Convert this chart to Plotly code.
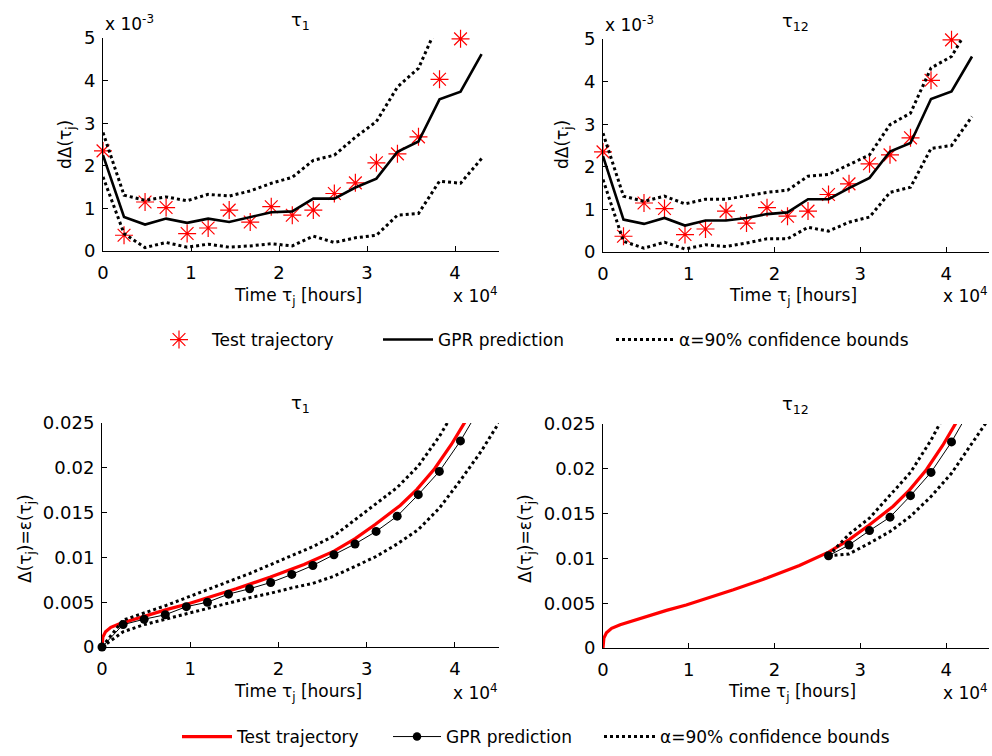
import plotly.graph_objects as go

# ---------------------------------------------------------------- data
# Inspection times, in units of 10^4 hours
time_1e4h = [0.000, 0.239, 0.478, 0.717, 0.956, 1.195, 1.434, 1.673, 1.912, 2.151,
             2.390, 2.629, 2.868, 3.107, 3.346, 3.585, 3.824, 4.063, 4.302, 4.541]

# Increments dDelta(tau_j), units of 10^-3
test_incr = [2.35, 0.37, 1.15, 1.02, 0.41, 0.54, 0.96, 0.68, 1.04, 0.84,
             0.96, 1.35, 1.60, 2.07, 2.28, 2.68, 4.03, 4.98]

pred_incr_t1 = [2.25, 0.80, 0.62, 0.76, 0.66, 0.76, 0.68, 0.80, 0.91, 0.93,
                1.23, 1.23, 1.49, 1.70, 2.33, 2.57, 3.56, 3.74, 4.62]
upper_incr_t1 = [2.78, 1.31, 1.19, 1.27, 1.18, 1.33, 1.29, 1.41, 1.59, 1.73,
                 2.13, 2.25, 2.67, 3.04, 3.85, 4.29, 5.40, 5.70, 6.60]
lower_incr_t1 = [1.74, 0.41, 0.08, 0.20, 0.09, 0.16, 0.09, 0.12, 0.17, 0.12,
                 0.35, 0.20, 0.31, 0.37, 0.84, 0.88, 1.64, 1.59, 2.17]

pred_incr_t12 = [2.25, 0.76, 0.66, 0.80, 0.62, 0.74, 0.74, 0.80, 0.89, 0.93,
                 1.24, 1.24, 1.50, 1.74, 2.36, 2.56, 3.59, 3.77, 4.59]
upper_incr_t12 = [2.79, 1.31, 1.19, 1.31, 1.13, 1.24, 1.24, 1.32, 1.40, 1.45,
                  1.78, 1.82, 2.05, 2.28, 2.99, 3.26, 4.32, 4.59, 5.40]
lower_incr_t12 = [1.70, 0.25, 0.09, 0.23, 0.07, 0.17, 0.13, 0.21, 0.31, 0.31,
                  0.58, 0.49, 0.70, 0.82, 1.40, 1.52, 2.43, 2.50, 3.18]

# Cumulative damage Delta(tau_j) = eps(tau_j): measured test trajectory
traj_time = [0.0, 0.003, 0.01, 0.04, 0.10, 0.20, 0.43, 0.74, 0.97, 1.24, 1.52,
             1.91, 2.29, 2.63, 2.87, 3.10, 3.38, 3.57, 3.77, 3.96, 4.12, 4.20]
traj_eps = [0.0, 0.0007, 0.0011, 0.0017, 0.0022, 0.0026, 0.0033, 0.0042, 0.0048,
            0.0056, 0.0065, 0.0078, 0.0092, 0.0107, 0.0121, 0.0137, 0.0158,
            0.0176, 0.0199, 0.0226, 0.0251, 0.0265]

# GPR prediction from tau_1 (indices 0..18)
pred_eps_t1 = [0.0, 0.0025, 0.0031, 0.0036, 0.0045, 0.0050, 0.0059, 0.0065, 0.0072,
               0.0081, 0.0091, 0.0103, 0.0115, 0.0129, 0.0146, 0.0170, 0.0196,
               0.0230, 0.0270]
upper_eps_t1 = [0.0, 0.0030, 0.0038, 0.0046, 0.0055, 0.0064, 0.0073, 0.0082, 0.0092,
                0.0102, 0.0112, 0.0124, 0.0142, 0.0160, 0.0178, 0.0202, 0.0235,
                0.0275, 0.0320]
lower_eps_t1 = [0.0, 0.0017, 0.0025, 0.0031, 0.0037, 0.0043, 0.0049, 0.0055, 0.0060,
                0.0066, 0.0071, 0.0079, 0.0090, 0.0101, 0.0115, 0.0131, 0.0155,
                0.0186, 0.0219, 0.0257]

# GPR prediction from tau_12 (starting at index 11)
start_t12 = 11
pred_eps_t12 = [0.0103, 0.0115, 0.0131, 0.0146, 0.0170, 0.0196, 0.0230, 0.0270]
upper_eps_t12 = [0.0103, 0.0127, 0.0145, 0.0171, 0.0196, 0.0232, 0.0275]
lower_eps_t12 = [0.0103, 0.0105, 0.0117, 0.0130, 0.0147, 0.0169, 0.0195, 0.0228, 0.0262]

# ---------------------------------------------------------------- styling
W, H = 992, 756
FONT = "DejaVu Sans"
BLACK = "#000000"
RED = "#ff0000"
LEG_NAMES = ["Test trajectory", "GPR prediction", "\u03b1=90% confidence bounds"]
EPS_MAX = 0.025


def px(x):
    return x / W


def py(y):
    return 1 - y / H


def seg(values, start=0):
    return time_1e4h[start:start + len(values)]


fig = go.Figure()

# ---- top row: increments
for k, (pred, up, lo) in enumerate([(pred_incr_t1, upper_incr_t1, lower_incr_t1),
                                    (pred_incr_t12, upper_incr_t12, lower_incr_t12)]):
    xa, ya = ("x", "y") if k == 0 else ("x2", "y2")
    first = k == 0
    fig.add_trace(go.Scatter(x=seg(test_incr), y=test_incr, mode="markers", xaxis=xa, yaxis=ya,
                             name=LEG_NAMES[0], legend="legend", showlegend=first,
                             cliponaxis=False,
                             marker=dict(symbol="asterisk-open", size=15, color=RED,
                                         line=dict(color=RED, width=1.2))))
    fig.add_trace(go.Scatter(x=seg(pred), y=pred, mode="lines", xaxis=xa, yaxis=ya,
                             name=LEG_NAMES[1], legend="legend2", showlegend=first,
                             line=dict(color=BLACK, width=2.6)))
    fig.add_trace(go.Scatter(x=seg(up), y=up, mode="lines", xaxis=xa, yaxis=ya,
                             name=LEG_NAMES[2], legend="legend3",
                             showlegend=first, legendgroup="b1",
                             line=dict(color=BLACK, width=3, dash="dot")))
    fig.add_trace(go.Scatter(x=seg(lo), y=lo, mode="lines", xaxis=xa, yaxis=ya,
                             showlegend=False, legendgroup="b1",
                             line=dict(color=BLACK, width=3, dash="dot")))

# ---- bottom row: cumulative damage
for k, (pred, up, lo, s) in enumerate([(pred_eps_t1, upper_eps_t1, lower_eps_t1, 0),
                                       (pred_eps_t12, upper_eps_t12, lower_eps_t12, start_t12)]):
    xa, ya = ("x3", "y3") if k == 0 else ("x4", "y4")
    first = k == 0
    # dots only for points inside the axis range; the line itself is clipped
    dot_sizes = [9 if v <= EPS_MAX else 0 for v in pred]
    fig.add_trace(go.Scatter(x=traj_time, y=traj_eps, mode="lines", xaxis=xa, yaxis=ya,
                             name=LEG_NAMES[0], legend="legend4", showlegend=first,
                             line=dict(color=RED, width=3.2)))
    fig.add_trace(go.Scatter(x=seg(pred, s), y=pred, mode="lines+markers", xaxis=xa, yaxis=ya,
                             name=LEG_NAMES[1], legend="legend5", showlegend=first,
                             cliponaxis=False,
                             line=dict(color=BLACK, width=1),
                             marker=dict(symbol="circle", size=dot_sizes, color=BLACK,
                                         opacity=1, line=dict(width=0))))
    fig.add_trace(go.Scatter(x=seg(up, s), y=up, mode="lines", xaxis=xa, yaxis=ya,
                             name=LEG_NAMES[2], legend="legend6",
                             showlegend=first, legendgroup="b2",
                             line=dict(color=BLACK, width=3, dash="dot")))
    fig.add_trace(go.Scatter(x=seg(lo, s), y=lo, mode="lines", xaxis=xa, yaxis=ya,
                             showlegend=False, legendgroup="b2",
                             line=dict(color=BLACK, width=3, dash="dot")))

axis_common = dict(showline=True, linecolor=BLACK, linewidth=1, mirror=False,
                   ticks="inside", ticklen=5, tickcolor=BLACK, tickwidth=1,
                   showgrid=False, zeroline=False, automargin=False,
                   tickfont=dict(family=FONT, size=18, color=BLACK))

xt = dict(range=[0, 4.5], tickvals=[0, 1, 2, 3, 4], ticklabelstandoff=5, **axis_common)
yt_top = dict(range=[0, 5], tickvals=[0, 1, 2, 3, 4, 5], ticklabelstandoff=3, **axis_common)
yt_bot = dict(range=[0, EPS_MAX], tickvals=[0, 0.005, 0.01, 0.015, 0.02, 0.025],
              ticktext=["0", "0.005", "0.01", "0.015", "0.02", "0.025"],
              ticklabelstandoff=3, **axis_common)

panels = {
    "tl": (103, 499, 38, 251),
    "tr": (603, 989, 39, 252),
    "bl": (102, 499, 423, 647),
    "br": (603, 989, 424, 648),
}


def dom(p):
    x0, x1, y0, y1 = panels[p]
    return [px(x0), px(x1)], [py(y1), py(y0)]


d = {p: dom(p) for p in panels}


def leg(x, y, itemwidth):
    return dict(x=px(x), y=py(y), xanchor="left", yanchor="middle", itemwidth=itemwidth,
                bgcolor="rgba(0,0,0,0)", borderwidth=0,
                font=dict(family=FONT, size=17, color=BLACK))


fig.update_layout(
    width=W, height=H, margin=dict(l=0, r=0, t=0, b=0, pad=0, autoexpand=False),
    paper_bgcolor="white", plot_bgcolor="white",
    font=dict(family=FONT, size=17, color=BLACK),
    xaxis=dict(domain=d["tl"][0], anchor="y", **xt),
    yaxis=dict(domain=d["tl"][1], anchor="x", **yt_top),
    xaxis2=dict(domain=d["tr"][0], anchor="y2", **xt),
    yaxis2=dict(domain=d["tr"][1], anchor="x2", **yt_top),
    xaxis3=dict(domain=d["bl"][0], anchor="y3", **xt),
    yaxis3=dict(domain=d["bl"][1], anchor="x3", **yt_bot),
    xaxis4=dict(domain=d["br"][0], anchor="y4", **xt),
    yaxis4=dict(domain=d["br"][1], anchor="x4", **yt_bot),
    legend=leg(146, 340, 56),
    legend2=leg(378, 340, 50),
    legend3=leg(611, 340, 58),
    legend4=leg(177, 737, 50),
    legend5=leg(388, 737, 48),
    legend6=leg(599, 737, 51),
    showlegend=True,
)


def note(text, x, y, xanchor="center", yanchor="middle", size=17, angle=0):
    fig.add_annotation(text=text, x=px(x), y=py(y), xref="paper", yref="paper",
                       xanchor=xanchor, yanchor=yanchor, showarrow=False, textangle=angle,
                       font=dict(family=FONT, size=size, color=BLACK))


xlabel = "Time \u03c4<sub>j</sub> [hours]"
# titles
note("\u03c4<sub>1</sub>", 300, 21, size=18)
note("\u03c4<sub>12</sub>", 795, 22, size=18)
note("\u03c4<sub>1</sub>", 300, 404, size=18)
note("\u03c4<sub>12</sub>", 795, 405, size=18)
# x labels and exponents
for cx, cy, ex, ey in [(298, 296, 500, 308), (793, 296, 990, 308),
                       (298, 692, 500, 705), (792, 692, 990, 705)]:
    note(xlabel, cx, cy)
    note("x 10<sup>4</sup>", ex, ey, xanchor="right", yanchor="bottom")
# y exponents (top row)
note("x 10<sup>-3</sup>", 103, 36, xanchor="left", yanchor="bottom")
note("x 10<sup>-3</sup>", 603, 37, xanchor="left", yanchor="bottom")
# y labels
note("d\u0394(\u03c4<sub>j</sub>)", 66, 145, angle=-90)
note("d\u0394(\u03c4<sub>j</sub>)", 563, 145, angle=-90)
note("\u0394(\u03c4<sub>j</sub>)=\u03b5(\u03c4<sub>j</sub>)", 26, 539, angle=-90)
note("\u0394(\u03c4<sub>j</sub>)=\u03b5(\u03c4<sub>j</sub>)", 526, 539, angle=-90)

fig.write_html("out.html")
